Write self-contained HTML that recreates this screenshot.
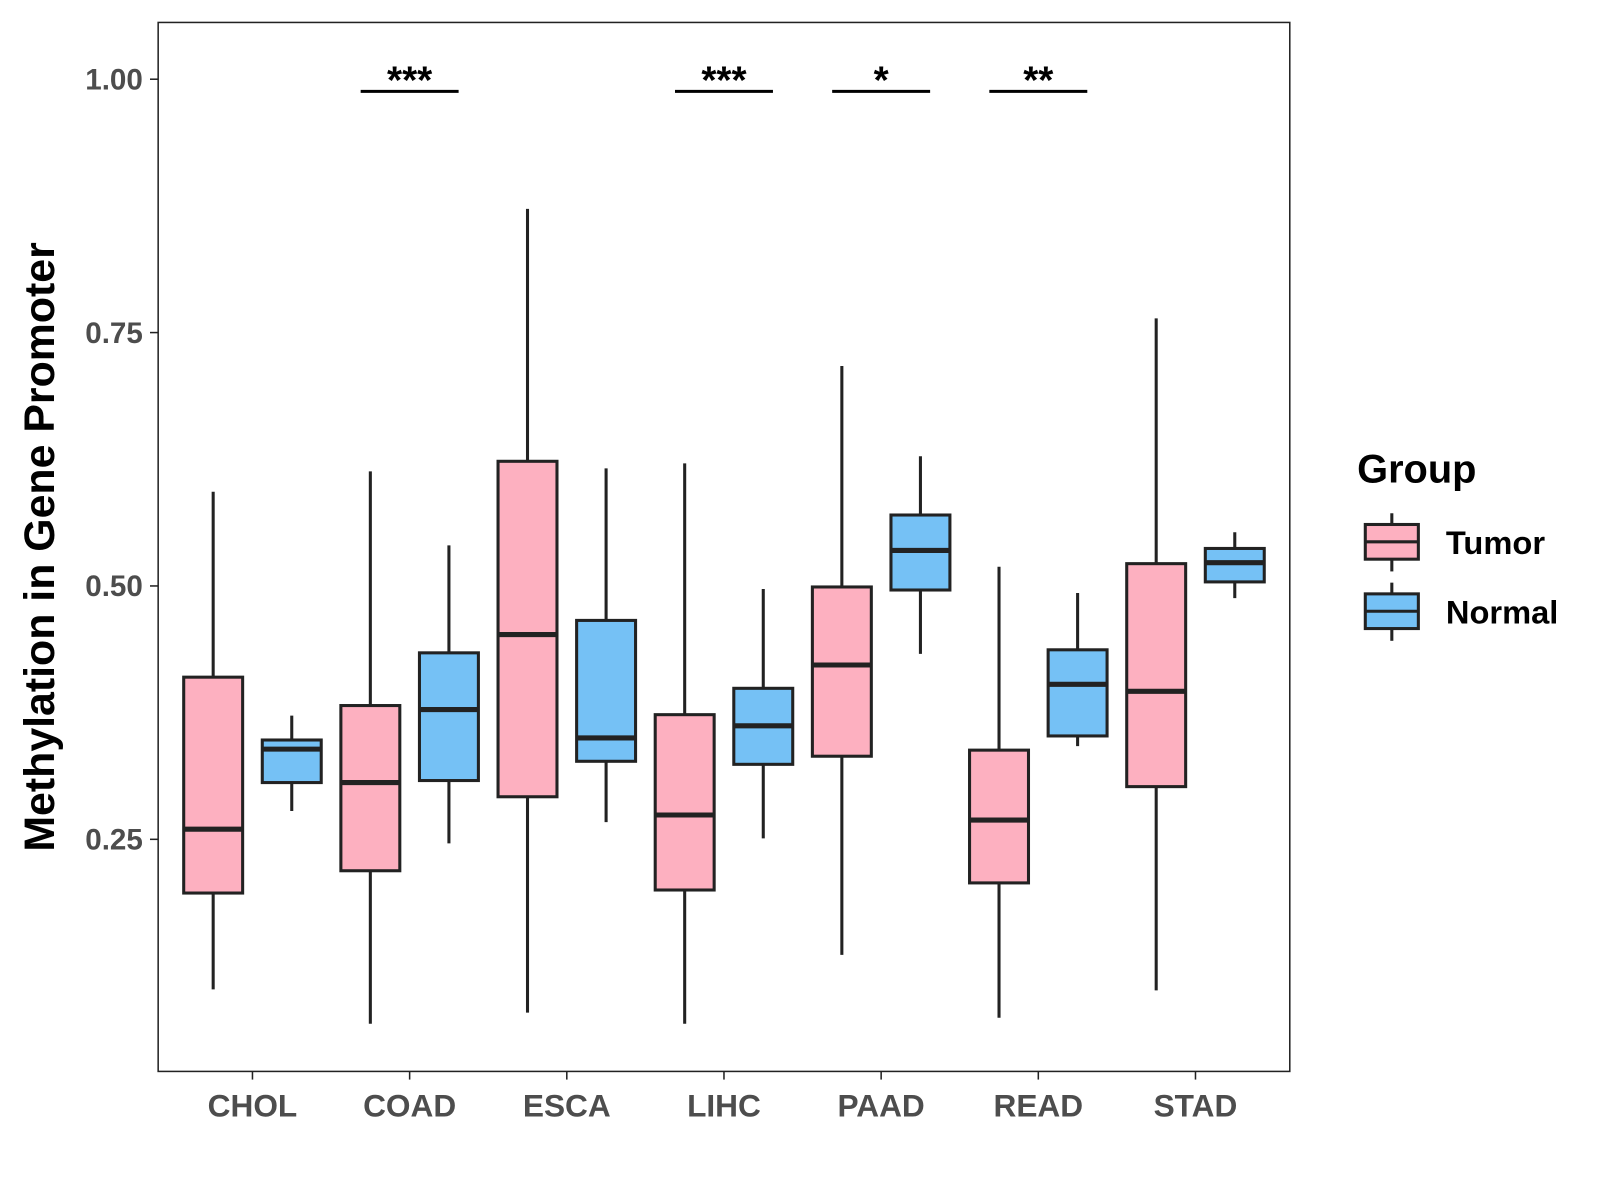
<!DOCTYPE html>
<html><head><meta charset="utf-8"><style>
html,body{margin:0;padding:0;background:#fff;}
svg{display:block;font-family:"Liberation Sans",Arial,sans-serif;}
</style></head><body>
<svg id="chart" width="1600" height="1200" viewBox="0 0 1600 1200" xmlns="http://www.w3.org/2000/svg">
<rect x="0" y="0" width="1600" height="1200" fill="#fff"/>
<g transform="scale(1.0204)">
<g id="plot"></g>
<text transform="translate(53,536) rotate(-90)" text-anchor="middle" font-size="42" font-weight="bold" fill="#000">Methylation in Gene Promoter</text>
<g>
<text x="1330" y="473" font-size="39" font-weight="bold">Group</text>
<g>
<line x1="1364" y1="503" x2="1364" y2="560" stroke="#222" stroke-width="3"/>
<rect x="1338" y="514" width="52" height="34" fill="#fdb0c0" stroke="#222" stroke-width="3"/>
<line x1="1338" y1="531" x2="1390" y2="531" stroke="#222" stroke-width="3"/>
<text x="1417" y="543" font-size="32" font-weight="bold">Tumor</text></g>
<g>
<line x1="1364" y1="571" x2="1364" y2="628" stroke="#222" stroke-width="3"/>
<rect x="1338" y="582" width="52" height="34" fill="#75c1f5" stroke="#222" stroke-width="3"/>
<line x1="1338" y1="599" x2="1390" y2="599" stroke="#222" stroke-width="3"/>
<text x="1417" y="611" font-size="32" font-weight="bold">Normal</text></g>
</g>
</g>
</svg>
<script>
const categories=["CHOL","COAD","ESCA","LIHC","PAAD","READ","STAD"];
// [lower whisker, q1, median, q3, upper whisker]
const tumorStats=[[0.102,0.197,0.260,0.410,0.593],[0.068,0.219,0.306,0.382,0.613],[0.079,0.292,0.452,0.623,0.872],[0.068,0.200,0.274,0.373,0.621],[0.136,0.332,0.422,0.499,0.717],[0.074,0.207,0.269,0.338,0.519],[0.101,0.302,0.396,0.522,0.764]];
const normalStats=[[0.278,0.306,0.339,0.348,0.372],[0.246,0.308,0.378,0.434,0.540],[0.267,0.327,0.350,0.466,0.616],[0.251,0.324,0.362,0.399,0.497],[0.433,0.496,0.535,0.570,0.628],[0.342,0.352,0.403,0.437,0.493],[0.488,0.504,0.523,0.537,0.553]];
const yTicks=[0.25,0.5,0.75,1.0];
const yTickLabels=["0.25","0.50","0.75","1.00"];
const sigLabels=["","***","","***","*","**",""];
const sigLevel=0.988;

const NS="http://www.w3.org/2000/svg";
const P={l:155,r:1264,t:22,b:1050};
const Y0=0.021,Y1=1.056;
function y(v){return P.b-(v-Y0)/(Y1-Y0)*(P.b-P.t);}
const step=(P.r-P.l)/(categories.length+0.2);
function x(i){return P.l+step*(i+0.6);}
const g=document.getElementById('plot');
function mk(t,a,parent){const e=document.createElementNS(NS,t);for(const k in a)e.setAttribute(k,a[k]);(parent||g).appendChild(e);return e;}

const frame=mk('rect',{x:P.l,y:P.t,width:P.r-P.l,height:P.b-P.t,fill:'none',stroke:'#222','stroke-width':1.5});



yTicks.forEach((v,i)=>{
  const tk=mk('line',{x1:P.l-8,x2:P.l,y1:y(v),y2:y(v),stroke:'#222','stroke-width':1.5});
  
  
  const t=mk('text',{x:P.l-15,y:y(v)+10,'text-anchor':'end','font-size':29,'font-weight':'bold',fill:'#4d4d4d'});
  t.textContent=yTickLabels[i];
  
  
});
const hw=step*0.1875,off=step*0.25;
function box(cx,s,fill,name){
  const grp=mk('g',{});
  
  
  mk('line',{x1:cx,x2:cx,y1:y(s[0]),y2:y(s[4]),stroke:'#222','stroke-width':3},grp);
  mk('rect',{x:cx-hw,y:y(s[3]),width:2*hw,height:y(s[1])-y(s[3]),fill:fill,stroke:'#222','stroke-width':3},grp);
  mk('line',{x1:cx-hw,x2:cx+hw,y1:y(s[2]),y2:y(s[2]),stroke:'#222','stroke-width':5},grp);
}
categories.forEach((c,i)=>{
  const cx=x(i);
  box(cx-off,tumorStats[i],'#fdb0c0','box-tumor-'+c.toLowerCase());
  box(cx+off,normalStats[i],'#75c1f5','box-normal-'+c.toLowerCase());
  const tk=mk('line',{x1:cx,x2:cx,y1:P.b,y2:P.b+8,stroke:'#222','stroke-width':1.5});
  
  
  const t=mk('text',{x:cx,y:P.b+44,'text-anchor':'middle','font-size':31,'font-weight':'bold',fill:'#4d4d4d'});
  t.textContent=c;
  
  
  if(sigLabels[i]){
    const l=mk('line',{x1:cx-48,x2:cx+48,y1:y(sigLevel),y2:y(sigLevel),stroke:'#000','stroke-width':3});
    
    
    const s=mk('text',{x:cx,y:y(sigLevel)+2,'text-anchor':'middle','font-size':38,'font-weight':'bold',fill:'#000'});
    s.textContent=sigLabels[i];
    
    
  }
});
</script>
</body></html>
